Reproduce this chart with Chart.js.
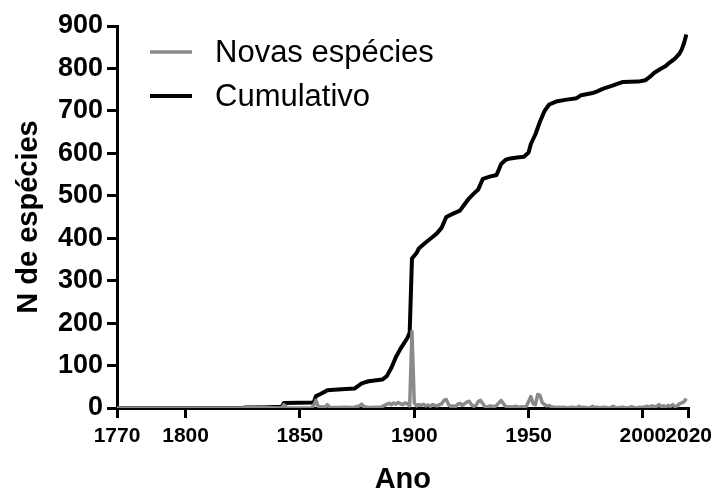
<!DOCTYPE html>
<html>
<head>
    <title>Novas espécies por ano</title>
    <script src="https://cdn.jsdelivr.net/npm/chart.js@4.4.1/dist/chart.umd.min.js"></script>
    <style>
        html, body { margin: 0; padding: 0; background: #fff; }
        .chart-container { width: 718px; height: 495px; }
    </style>
</head>
<body>
    <div class="chart-container">
        <canvas id="speciesChart"></canvas>
    </div>

    <script>
        // novas espécies por ano
        const newYears = [1770, 1825, 1826, 1835, 1842, 1843, 1844, 1845, 1855, 1856, 1857, 1858, 1859, 1860, 1861, 1862, 1863, 1866, 1870, 1873, 1876, 1877, 1878, 1880, 1884, 1885,
            1887, 1888, 1889, 1890, 1891, 1892, 1893, 1894, 1895, 1896, 1897, 1898, 1899, 1900, 1901, 1902, 1903, 1904, 1905, 1906, 1907, 1908, 1909,
            1910, 1911, 1912, 1913, 1914, 1915, 1916, 1917, 1918, 1919, 1920, 1921, 1922, 1923, 1924, 1925, 1926, 1927, 1928, 1929,
            1930, 1931, 1932, 1933, 1934, 1935, 1936, 1937, 1938, 1939, 1940, 1941, 1942, 1943, 1944, 1945, 1946, 1947, 1948, 1949,
            1950, 1951, 1952, 1953, 1954, 1955, 1956, 1957, 1958, 1959, 1960, 1961, 1962, 1963, 1964, 1965, 1966, 1967, 1968, 1969,
            1970, 1971, 1972, 1973, 1974, 1975, 1976, 1977, 1978, 1979, 1980, 1981, 1982, 1983, 1984, 1985, 1986, 1987, 1988, 1989,
            1990, 1991, 1992, 1993, 1994, 1995, 1996, 1997, 1998, 1999, 2000, 2001, 2002, 2003, 2004, 2005, 2006, 2007, 2008, 2009,
            2010, 2011, 2012, 2013, 2014, 2015, 2016, 2017, 2018, 2019];
        const newSpecies = [0, 0, 1, 1, 0, 8, 2, 0, 0, 6, 18, 4, 2, 3, 1, 8, 2, 1, 2, 1, 5, 9, 3, 1, 2, 1,
            6, 9, 11, 8, 12, 9, 13, 10, 8, 12, 10, 5, 180, 12, 5, 8, 6, 9, 5, 7, 4, 8, 6,
            5, 8, 10, 18, 20, 8, 4, 5, 3, 9, 11, 6, 10, 14, 16, 8, 4, 6, 15, 18,
            10, 3, 2, 5, 4, 3, 6, 12, 18, 10, 4, 2, 3, 2, 4, 3, 2, 3, 2, 4,
            15, 27, 10, 8, 32, 30, 12, 8, 5, 6, 3, 2, 1, 2, 1, 2, 1, 0, 1, 2,
            1, 0, 4, 1, 2, 1, 0, 1, 4, 1, 2, 0, 1, 2, 1, 0, 1, 4, 1, 0,
            1, 2, 1, 0, 1, 3, 1, 0, 1, 2, 1, 3, 4, 2, 5, 3, 4, 8, 3, 5,
            2, 6, 4, 8, 3, 5, 10, 12, 15, 22];

        // total acumulado
        const cumYears = [1770, 1825, 1826, 1835, 1842, 1843, 1856, 1857, 1859, 1862, 1865, 1870, 1874, 1877, 1880, 1886, 1888, 1890, 1892, 1894,
            1897, 1898, 1899, 1901, 1902, 1905, 1908, 1910, 1912, 1914, 1917, 1920, 1922, 1924, 1926, 1928, 1930, 1933, 1936, 1938,
            1940, 1942, 1945, 1948, 1950, 1951, 1953, 1955, 1957, 1959, 1962, 1966, 1971, 1973, 1978, 1980, 1983, 1987, 1991, 1998,
            2001, 2003, 2005, 2008, 2010, 2012, 2014, 2016, 2017, 2018, 2019];
        const cumulative = [0, 0, 1, 2, 3, 12, 13, 28, 33, 42, 43, 45, 46, 58, 63, 67, 75, 95, 120, 140,
            165, 178, 352, 365, 376, 390, 403, 412, 425, 450, 458, 465, 480, 494, 505, 515, 540, 545, 549, 575,
            585, 588, 590, 592, 602, 622, 645, 675, 700, 715, 722, 726, 730, 737, 742, 746, 753, 760, 768, 769,
            772, 780, 790, 800, 806, 815, 823, 835, 845, 860, 880];

        const xTicks = [1770, 1800, 1850, 1900, 1950, 2000, 2020];
        const seriesNames = ['Novas espécies', 'Cumulativo'];

        const FONT = "'Liberation Sans', Arial, sans-serif";

        // legenda desenhada à mão no canto superior esquerdo
        const legendPlugin = {
            id: 'cornerLegend',
            afterDraw(chart) {
                const ctx = chart.ctx;
                ctx.save();
                chart.data.datasets.forEach((ds, i) => {
                    const y = 52 + i * 44;
                    ctx.strokeStyle = ds.borderColor;
                    ctx.lineWidth = ds.borderWidth;
                    ctx.beginPath();
                    ctx.moveTo(150, y);
                    ctx.lineTo(192, y);
                    ctx.stroke();
                    ctx.fillStyle = '#000';
                    ctx.font = '31px ' + FONT;
                    ctx.textBaseline = 'middle';
                    ctx.fillText(ds.label, 215, y + 1);
                });
                ctx.restore();
            }
        };

        new Chart(document.getElementById('speciesChart'), {
            type: 'line',
            data: {
                datasets: [{
                    label: seriesNames[0],
                    data: newYears.map((yr, i) => ({ x: yr, y: newSpecies[i] })),
                    borderColor: '#8a8a8a',
                    borderWidth: 3.5,
                    pointRadius: 0,
                    tension: 0,
                    borderJoinStyle: 'round'
                }, {
                    label: seriesNames[1],
                    data: cumYears.map((yr, i) => ({ x: yr, y: cumulative[i] })),
                    borderColor: '#000000',
                    borderWidth: 4,
                    pointRadius: 0,
                    tension: 0,
                    borderJoinStyle: 'round'
                }]
            },
            options: {
                responsive: true,
                maintainAspectRatio: false,
                animation: false,
                layout: { padding: { top: 26, right: 26, bottom: 0, left: 0 } },
                plugins: {
                    legend: { display: false },
                    tooltip: { enabled: false }
                },
                scales: {
                    x: {
                        type: 'linear',
                        min: 1770,
                        max: 2020,
                        afterBuildTicks: (scale) => { scale.ticks = xTicks.map(v => ({ value: v })); },
                        afterFit: (scale) => { scale.height = 87; },
                        grid: { drawOnChartArea: false, drawTicks: true, tickLength: 10, color: '#000', lineWidth: 3 },
                        border: { color: '#000', width: 3 },
                        ticks: {
                            color: '#000',
                            font: { family: FONT, size: 21, weight: 'bold' },
                            padding: 6,
                            maxRotation: 0,
                            autoSkip: false,
                            callback: (v) => String(v)
                        },
                        title: {
                            display: true,
                            text: 'Ano',
                            color: '#000',
                            font: { family: FONT, size: 29, weight: 'bold' },
                            padding: { top: 4, bottom: -2 }
                        }
                    },
                    y: {
                        min: 0,
                        max: 900,
                        afterFit: (scale) => { scale.width = 117; },
                        grid: { drawOnChartArea: false, drawTicks: true, tickLength: 10, color: '#000', lineWidth: 3 },
                        border: { color: '#000', width: 3 },
                        ticks: {
                            stepSize: 100,
                            color: '#000',
                            font: { family: FONT, size: 27, weight: 'bold' },
                            padding: 4
                        },
                        title: {
                            display: true,
                            text: 'N de espécies',
                            color: '#000',
                            font: { family: FONT, size: 29, weight: 'bold' },
                            padding: { top: 12, bottom: 4 }
                        }
                    }
                }
            },
            plugins: [legendPlugin]
        });
    </script>
</body>
</html>
